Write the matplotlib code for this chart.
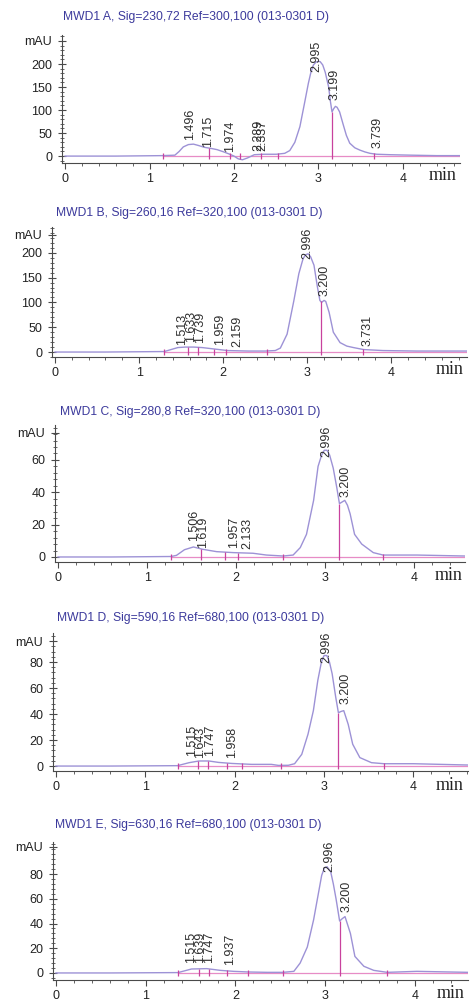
import numpy as np
import matplotlib
matplotlib.use("Agg")
import matplotlib.pyplot as plt
from matplotlib.ticker import MultipleLocator, FixedLocator

plt.rcParams["font.family"] = ["Liberation Sans", "DejaVu Sans"]

W, H = 470, 999

# ---- data (time in min, signal in mAU) ----
titles = [
    "MWD1 A, Sig=230,72 Ref=300,100 (013-0301 D)",
    "MWD1 B, Sig=260,16 Ref=320,100 (013-0301 D)",
    "MWD1 C, Sig=280,8 Ref=320,100 (013-0301 D)",
    "MWD1 D, Sig=590,16 Ref=680,100 (013-0301 D)",
    "MWD1 E, Sig=630,16 Ref=680,100 (013-0301 D)",
]

t_a = [0, 0.6, 1.15, 1.3, 1.35, 1.4, 1.46, 1.52, 1.58, 1.65, 1.72, 1.8, 1.88, 1.95, 2.0,
       2.05, 2.1, 2.16, 2.24, 2.35, 2.5, 2.6, 2.66, 2.72, 2.78, 2.84, 2.88, 2.91, 2.94,
       2.97, 3.0, 3.02, 3.05, 3.08, 3.12, 3.14, 3.16, 3.18, 3.2, 3.22, 3.25, 3.29, 3.33,
       3.37, 3.43, 3.49, 3.55, 3.61, 3.69, 3.85, 4.1, 4.4, 4.67]
y_a = [0, 0, 1, 2, 10, 20, 25, 26, 23, 19, 17, 14, 9, 4, 0,
       -6, -8, -4, 3, 4, 4, 6, 12, 30, 64, 120, 158, 182, 198,
       204, 206, 205, 198, 182, 150, 120, 96, 103, 108, 106, 96, 70, 45,
       28, 18, 13, 9, 6, 4, 3, 2, 1, 1]
marks_a = [1.16, 1.70, 1.95, 2.07, 2.32, 2.52, 3.16, 3.66]
peaks_a = ["1.496", "1.715", "1.974", "2.289", "2.337", "2.995", "3.199", "3.739"]
peak_x_a = [1.48, 1.69, 1.95, 2.29, 2.34, 2.98, 3.19, 3.70]
peak_h_a = [35, 20, 9, 10, 10, 183, 122, 17]

t_b = [0, 0.6, 1.3, 1.38, 1.46, 1.55, 1.65, 1.75, 1.85, 1.95, 2.05, 2.3, 2.5, 2.62, 2.68,
       2.76, 2.84, 2.9, 2.95, 2.98, 3.01, 3.04, 3.08, 3.12, 3.15, 3.17, 3.2, 3.22, 3.26,
       3.31, 3.39, 3.47, 3.55, 3.67, 3.9, 4.3, 4.9]
y_b = [0, 0, 1, 5, 9, 10, 10, 9, 7, 5, 3, 2, 2, 3, 8,
       36, 103, 158, 188, 196, 198, 192, 175, 132, 104, 100, 104, 102, 80,
       40, 19, 12, 9, 5, 3, 2, 2]
marks_b = [1.30, 1.58, 1.70, 1.89, 2.03, 2.52, 3.16, 3.66]
peaks_b = ["1.513", "1.633", "1.739", "1.959", "2.159", "2.996", "3.200", "3.731"]
peak_x_b = [1.51, 1.62, 1.72, 1.96, 2.17, 3.00, 3.20, 3.72]
peak_h_b = [15, 21, 19, 15, 10, 187, 113, 12]

t_c = [0, 0.6, 1.27, 1.33, 1.42, 1.52, 1.62, 1.78, 1.97, 2.19, 2.34, 2.53, 2.64, 2.72,
       2.79, 2.87, 2.92, 2.96, 2.99, 3.02, 3.05, 3.09, 3.13, 3.16, 3.19, 3.22, 3.25, 3.28,
       3.33, 3.41, 3.54, 3.65, 4.03, 4.57]
y_c = [0, 0, 0.3, 1, 4.5, 6.2, 4.8, 3.3, 2.7, 2.3, 1.2, 0.6, 1.2, 5.8,
       14, 35, 56, 63, 66, 66, 63, 55, 43, 33, 34, 35, 32, 26.7,
       14, 8, 2.7, 1.2, 1.2, 0.6]
marks_c = [1.27, 1.61, 1.87, 2.02, 2.53, 3.16, 3.65]
peaks_c = ["1.506", "1.619", "1.957", "2.133", "2.996", "3.200"]
peak_x_c = [1.53, 1.63, 1.98, 2.13, 3.01, 3.23]
peak_h_c = [10, 5.8, 5.8, 4.8, 62, 37]

t_d = [0, 0.6, 1.36, 1.49, 1.6, 1.71, 1.82, 1.97, 2.19, 2.41, 2.49, 2.6, 2.67, 2.75,
       2.82, 2.88, 2.93, 2.97, 3.0, 3.03, 3.06, 3.09, 3.13, 3.16, 3.19, 3.22, 3.27, 3.32,
       3.4, 3.53, 3.67, 4.0, 4.61]
y_d = [0, 0, 0.3, 2.6, 3.9, 3.9, 2.8, 2.0, 1.3, 1.3, 0.5, 0.6, 1.8, 9,
       24.5, 42.6, 66, 80, 85, 85, 80, 71, 53, 41, 42, 42.6, 32, 16.8,
       6.5, 2.6, 1.8, 1.8, 0.8]
marks_d = [1.36, 1.59, 1.70, 1.91, 2.08, 2.52, 3.16, 3.67]
peaks_d = ["1.515", "1.643", "1.747", "1.958", "2.996", "3.200"]
peak_x_d = [1.52, 1.61, 1.72, 1.97, 3.03, 3.24]
peak_h_d = [7.7, 6.5, 7.7, 6.5, 79, 48]

t_e = [0, 0.6, 1.36, 1.51, 1.68, 1.83, 1.98, 2.14, 2.35, 2.53, 2.65, 2.72, 2.8, 2.87,
       2.93, 2.96, 2.99, 3.02, 3.06, 3.09, 3.12, 3.16, 3.19, 3.22, 3.28, 3.33, 3.43, 3.54,
       3.69, 4.02, 4.59]
y_e = [0, 0, 0.3, 3.2, 3.5, 2.1, 1.3, 0.8, 0.5, 0.5, 1.3, 8, 21, 43,
       67, 79, 85, 86, 82, 72, 60, 42, 44, 45.6, 32, 13.4, 5.4, 2.1,
       0.5, 1.3, 0.5]
marks_e = [1.36, 1.59, 1.70, 1.91, 2.14, 2.53, 3.16, 3.69]
peaks_e = ["1.515", "1.639", "1.747", "1.937", "2.996", "3.200"]
peak_x_e = [1.51, 1.60, 1.70, 1.94, 3.04, 3.24]
peak_h_e = [8, 8, 8, 6.7, 82, 49.7]

y_ticks_ab = [0, 50, 100, 150, 200]
y_ticks_c = [0, 20, 40, 60]
y_ticks_de = [0, 20, 40, 60, 80]
x_ticks = [0, 1, 2, 3, 4]

# ---- layout in pixels: (left, right, top, bottom), limits, title/min positions ----
panels = [
    dict(t=t_a, y=y_a, marks=marks_a, peaks=peaks_a, px=peak_x_a, ph=peak_h_a,
         box=(62, 460, 35, 163), xlim=(-0.036, 4.675), ylim=(-15, 263),
         yt=y_ticks_ab, mau=250, ymin=10, title_xy=(63, 17), min_xy=(443, 176)),
    dict(t=t_b, y=y_b, marks=marks_b, peaks=peaks_b, px=peak_x_b, ph=peak_h_b,
         box=(52, 467, 227, 357), xlim=(-0.036, 4.90), ylim=(-10, 252),
         yt=y_ticks_ab, mau=236, ymin=10, title_xy=(56, 213), min_xy=(450, 370)),
    dict(t=t_c, y=y_c, marks=marks_c, peaks=peaks_c, px=peak_x_c, ph=peak_h_c,
         box=(55, 465, 425, 562), xlim=(-0.034, 4.57), ylim=(-3.1, 81.6),
         yt=y_ticks_c, mau=76.7, ymin=4, title_xy=(60, 412), min_xy=(449, 576)),
    dict(t=t_d, y=y_d, marks=marks_d, peaks=peaks_d, px=peak_x_d, ph=peak_h_d,
         box=(53, 468, 633, 771), xlim=(-0.033, 4.61), ylim=(-3.8, 102.3),
         yt=y_ticks_de, mau=96, ymin=4, title_xy=(57, 618), min_xy=(450, 785)),
    dict(t=t_e, y=y_e, marks=marks_e, peaks=peaks_e, px=peak_x_e, ph=peak_h_e,
         box=(53, 468, 842, 980), xlim=(-0.033, 4.59), ylim=(-5.7, 106),
         yt=y_ticks_de, mau=102, ymin=4, title_xy=(55, 825), min_xy=(451, 994)),
]

curve_c = "#9d92d6"
base_c = "#e78cc6"
drop_c = "#c8429e"
title_c = "#3c3a9c"
axis_c = "#4a4a4a"

fig = plt.figure(figsize=(W / 100, H / 100), dpi=100)

for p, title in zip(panels, titles):
    l, r, top, bot = p["box"]
    ax = fig.add_axes([l / W, 1 - bot / H, (r - l) / W, (bot - top) / H])
    ax.set_xlim(*p["xlim"])
    ax.set_ylim(*p["ylim"])
    for s in ["top", "right"]:
        ax.spines[s].set_visible(False)
    for s in ["left", "bottom"]:
        ax.spines[s].set_color(axis_c)
        ax.spines[s].set_linewidth(0.8)

    # data units per pixel (vertical)
    upx = (p["ylim"][1] - p["ylim"][0]) / (bot - top)

    ax.plot([p["marks"][0], p["xlim"][1]], [0, 0], color=base_c, lw=0.9, zorder=2)
    ax.plot(p["t"], p["y"], color=curve_c, lw=1.0, zorder=3)
    for m in p["marks"]:
        h = np.interp(m, p["t"], p["y"])
        ax.vlines(m, -3 * upx, max(h, 3 * upx), color=drop_c, lw=0.9, zorder=4)

    for s, x, yb in zip(p["peaks"], p["px"], p["ph"]):
        ax.text(x, yb, s, rotation=90, ha="center", va="bottom", fontsize=9,
                color="#2e2e2e", clip_on=False, zorder=5)

    ax.yaxis.set_major_locator(FixedLocator(p["yt"] + [p["mau"]]))
    ax.set_yticklabels([str(v) for v in p["yt"]] + ["mAU"])
    ax.yaxis.set_minor_locator(MultipleLocator(p["ymin"]))
    ax.set_xticks(x_ticks)
    ax.set_xticklabels([str(v) for v in x_ticks])
    ax.xaxis.set_minor_locator(MultipleLocator(0.2))

    ax.tick_params(axis="y", which="major", direction="inout", length=6, width=0.8,
                   pad=4, labelsize=9, colors=axis_c, labelcolor="#222222")
    ax.tick_params(axis="y", which="minor", direction="inout", length=3, width=0.6,
                   colors=axis_c)
    ax.tick_params(axis="x", which="major", direction="out", length=4, width=0.8,
                   pad=3, labelsize=9, colors=axis_c, labelcolor="#222222")
    ax.tick_params(axis="x", which="minor", direction="out", length=2.5, width=0.6,
                   colors=axis_c)
    ax.patch.set_alpha(0)

    tx, ty = p["title_xy"]
    fig.text(tx / W, 1 - ty / H, title, ha="left", va="center", fontsize=8.7,
             color=title_c)
    mx, my = p["min_xy"]
    fig.text(mx / W, 1 - my / H, "min", ha="center", va="center", fontsize=13,
             family="Liberation Serif", color="#222222")

fig.savefig("out.png", dpi=100)
